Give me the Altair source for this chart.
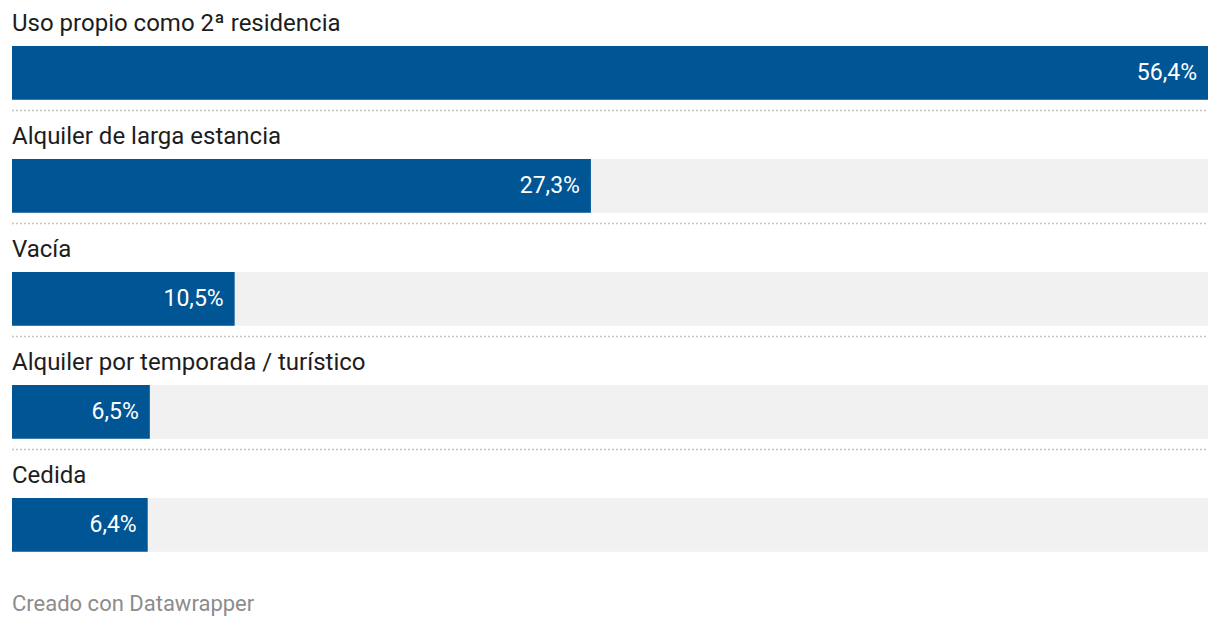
import altair as alt
import pandas as pd

categories = ["Uso propio como 2ª residencia", "Alquiler de larga estancia", "Vacía",
              "Alquiler por temporada / turístico", "Cedida"]
values = [56.4, 27.3, 10.5, 6.5, 6.4]
footer_text = "Creado con Datawrapper"

XMAX = max(values)
rows = []
for i, (c, v) in enumerate(zip(categories, values)):
    rows.append({
        "cat": c, "val": v, "lbl": f"{v:.1f}".replace(".", ",") + "%",
        "row": i, "y_lbl": i + 0.142, "y0": i + 0.336, "y1": i + 0.812,
        "y_sep": i + 0.907, "xmax": XMAX, "zero": 0, "last": i == len(categories) - 1,
    })
df = pd.DataFrame(rows)

W, H = 1196, 612
ys = alt.Scale(domain=[0, H / 113.0], reverse=True, nice=False, zero=False)
xs = alt.Scale(domain=[0, XMAX], nice=False, zero=True)

base = alt.Chart(df)
font = "Roboto"

bg = base.mark_rect(color="#f1f1f1").encode(
    x=alt.X("zero:Q", scale=xs, axis=None), x2="xmax:Q",
    y=alt.Y("y0:Q", scale=ys, axis=None), y2="y1:Q")
bars = base.mark_rect(color="#005595").encode(
    x=alt.X("zero:Q", scale=xs, axis=None), x2="val:Q",
    y=alt.Y("y0:Q", scale=ys, axis=None), y2="y1:Q")
vals_txt = base.mark_text(align="right", baseline="middle", dx=-11, font=font,
                          fontSize=23, color="white").encode(
    x=alt.X("val:Q", scale=xs, axis=None),
    y=alt.Y("ymid:Q", scale=ys, axis=None), text="lbl:N"
).transform_calculate(ymid="(datum.y0 + datum.y1) / 2")
cat_txt = base.mark_text(align="left", baseline="middle", font=font,
                         fontSize=24, color="#1d1d1d").encode(
    x=alt.X("zero:Q", scale=xs, axis=None),
    y=alt.Y("y_lbl:Q", scale=ys, axis=None), text="cat:N")
seps = base.transform_filter("!datum.last").mark_rule(
    color="#c4c4c4", strokeWidth=1.5, strokeDash=[2, 2]).encode(
    x=alt.X("zero:Q", scale=xs, axis=None), x2="xmax:Q",
    y=alt.Y("y_sep:Q", scale=ys, axis=None))
foot_df = pd.DataFrame({"t": [footer_text], "x": [0], "y": [5.272]})
footer = alt.Chart(foot_df).mark_text(align="left", baseline="middle", font=font,
                                       fontSize=22, color="#8c8c8c").encode(
    x=alt.X("x:Q", scale=xs, axis=None), y=alt.Y("y:Q", scale=ys, axis=None), text="t:N")

chart = alt.layer(bg, bars, seps, vals_txt, cat_txt, footer).properties(
    width=W, height=H,
    padding={"left": 4, "top": 0, "right": 4, "bottom": 0},
    autosize=alt.AutoSizeParams(type="none"),
).configure_view(stroke=None)

chart.save("out.html", embed_options={"renderer": "svg", "actions": False})
